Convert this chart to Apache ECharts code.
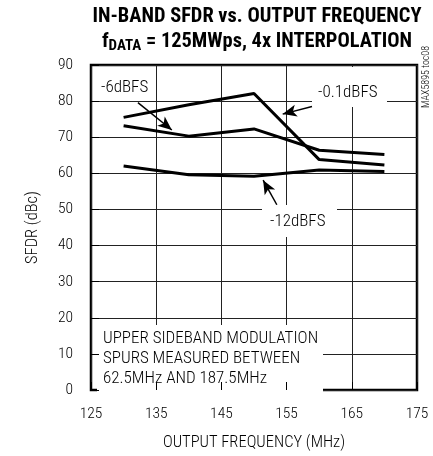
<!DOCTYPE html>
<html><head><meta charset="utf-8">
<script src="https://cdn.jsdelivr.net/npm/echarts@6/dist/echarts.min.js"></script>
<style>html,body{margin:0;padding:0;background:#fff}#c{width:433px;height:456px}</style>
</head><body><div id="c"></div>
<script>
var FONT = '"Roboto Condensed","Liberation Sans Narrow",sans-serif';
var freq = [130, 140, 150, 160, 170];
var s01dBFS = [75.5, 79.0, 82.1, 63.8, 62.3];
var s6dBFS = [73.2, 70.3, 72.3, 66.4, 65.2];
var s12dBFS = [62.0, 59.6, 59.2, 60.9, 60.5];
var xTicks = [125, 135, 145, 155, 165, 175];
var yTicks = [0, 10, 20, 30, 40, 50, 60, 70, 80, 90];

function pairs(v){ return freq.map(function(f,i){ return [f, v[i]]; }); }
var chart = echarts.init(document.getElementById('c'), null, {renderer:'canvas'});
var lineStyle = {color:'#000', width:3};
var arrows = [
  [[132.2, 79.6],[137.4, 72.0]],
  [[158.9, 78.5],[154.4, 76.4]],
  [[153.5, 51.3],[151.4, 58.1]]
];
var W = 300;
var option = {
  animation:false,
  backgroundColor:'#fff',
  title:{
    left:252, top:-1, textAlign:'center',
    text:'{b|IN-BAND SFDR vs. OUTPUT FREQUENCY}\n{b|f}{s|DATA}{b| = 125MWps, 4x INTERPOLATION}',
    textStyle:{
      rich:{
        b:{fontFamily:FONT, fontWeight:'bold', fontSize:20.4, color:'#000', lineHeight:25},
        s:{fontFamily:FONT, fontWeight:'bold', fontSize:15, color:'#000', verticalAlign:'bottom', padding:[8,0,0,0], lineHeight:25}
      }
    }
  },
  grid:{left:91, right:16, top:65, bottom:61, show:true, borderColor:'#000', borderWidth:2.5, backgroundColor:'transparent'},
  xAxis:[{
    type:'value', min:125, max:175, interval:10,
    name:'OUTPUT FREQUENCY (MHz)', nameLocation:'middle', nameGap:44,
    nameTextStyle:{fontFamily:FONT, fontWeight:W, fontSize:16.5, color:'#000'},
    axisLine:{show:false}, axisTick:{show:false},
    axisLabel:{fontFamily:FONT, fontWeight:W, fontSize:15.5, color:'#000', margin:16},
    splitLine:{show:true, lineStyle:{color:'#222', width:1}}
  },{
    type:'value', min:125, max:175, interval:10, position:'bottom', z:5,
    axisLine:{show:false}, axisLabel:{show:false}, splitLine:{show:false},
    axisTick:{show:true, inside:true, length:8, lineStyle:{color:'#000', width:1}}
  }],
  yAxis:[{
    type:'value', min:0, max:90, interval:10,
    name:'SFDR (dBc)', nameLocation:'middle', nameGap:50, nameRotate:90,
    nameTextStyle:{fontFamily:FONT, fontWeight:W, fontSize:16.5, color:'#000'},
    axisLine:{show:false}, axisTick:{show:false},
    axisLabel:{fontFamily:FONT, fontWeight:W, fontSize:15.5, color:'#000', margin:18},
    splitLine:{show:true, lineStyle:{color:'#222', width:1}}
  },{
    type:'value', min:0, max:90, interval:10, position:'left', z:5,
    axisLine:{show:false}, axisLabel:{show:false}, splitLine:{show:false},
    axisTick:{show:true, inside:true, length:8, lineStyle:{color:'#000', width:1}}
  }],
  graphic:[
    {type:'rect', z:3, shape:{x:97, y:325, width:226, height:67}, style:{fill:'#fff'}},
    {type:'text', z:4, x:103, y:339, style:{text:'UPPER SIDEBAND MODULATION', font:W+' 17px '+FONT, fill:'#000', verticalAlign:'middle'}},
    {type:'text', z:4, x:103, y:359, style:{text:'SPURS MEASURED BETWEEN', font:W+' 17px '+FONT, fill:'#000', verticalAlign:'middle'}},
    {type:'text', z:4, x:103, y:379, style:{text:'62.5MHz AND 187.5MHz', font:W+' 17px '+FONT, fill:'#000', verticalAlign:'middle'}},
    {type:'rect', z:3, shape:{x:96, y:77, width:58, height:22}, style:{fill:'#fff'}},
    {type:'text', z:4, x:101, y:88, style:{text:'-6dBFS', font:W+' 17px '+FONT, fill:'#000', verticalAlign:'middle'}},
    {type:'rect', z:3, shape:{x:312, y:67, width:75, height:40}, style:{fill:'#fff'}},
    {type:'text', z:4, x:318, y:93, style:{text:'-0.1dBFS', font:W+' 17px '+FONT, fill:'#000', verticalAlign:'middle'}},
    {type:'rect', z:3, shape:{x:262, y:205, width:75, height:32}, style:{fill:'#fff'}},
    {type:'text', z:4, x:270, y:222, style:{text:'-12dBFS', font:W+' 17px '+FONT, fill:'#000', verticalAlign:'middle'}},
    {type:'text', z:4, x:421, y:108, rotation:Math.PI/2, style:{text:'MAX5895 toc08', font:W+' 10px '+FONT, fill:'#000'}}
  ],
  series:[
    {type:'line', name:'-0.1dBFS', data:pairs(s01dBFS), symbol:'none', lineStyle:lineStyle, z:6},
    {type:'line', name:'-6dBFS', data:pairs(s6dBFS), symbol:'none', lineStyle:lineStyle, z:6},
    {type:'line', name:'-12dBFS', data:pairs(s12dBFS), symbol:'none', lineStyle:lineStyle, z:6,
     markLine:{silent:true, symbol:['none','arrow'], symbolSize:[9,14], label:{show:false},
       lineStyle:{color:'#000', width:1.5, type:'solid'},
       data: arrows.map(function(a){ return [{coord:a[0]},{coord:a[1]}]; })}
    }
  ]
};
chart.setOption(option);
</script>
</body></html>
